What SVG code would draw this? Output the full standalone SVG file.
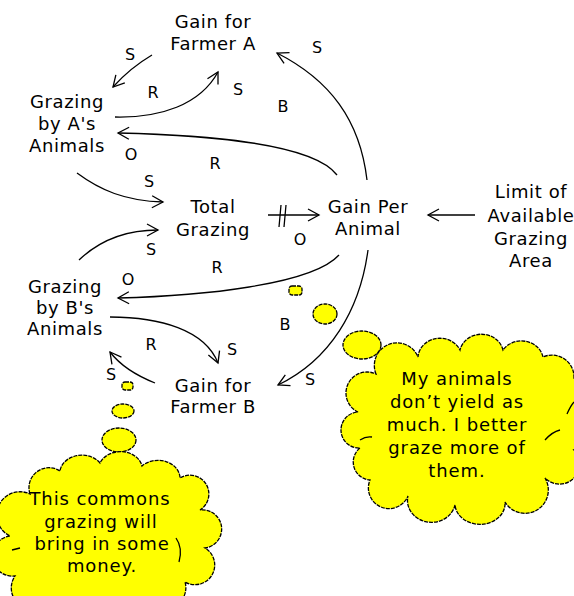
<svg xmlns="http://www.w3.org/2000/svg" width="574" height="596" viewBox="0 0 574 596">
<style>
  .t { font-family: "DejaVu Sans", "Liberation Sans", sans-serif; font-size: 18px; letter-spacing: 0.6px; fill: #000; text-anchor: middle; }
  .l { font-family: "DejaVu Sans", "Liberation Sans", sans-serif; font-size: 16px; fill: #000; text-anchor: middle; }
  .c { font-family: "DejaVu Sans", "Liberation Sans", sans-serif; font-size: 18px; letter-spacing: 0.9px; fill: #000; text-anchor: middle; }
  .e { fill: none; stroke: #000; stroke-width: 1.3; marker-end: url(#arr); }
  .h { fill: none; stroke: #000; stroke-width: 1.3; }
  .b { fill: #ffff00; stroke: #000; stroke-width: 1.3; stroke-dasharray: 4 1; }
</style>
<defs>
  <marker id="arr" markerUnits="userSpaceOnUse" viewBox="-12 -7 14 14" refX="0" refY="0" markerWidth="14" markerHeight="14" orient="auto">
    <path d="M-11,-6 L0,0 L-11,6" fill="none" stroke="#000" stroke-width="1.3"/>
  </marker>
</defs>
<rect width="574" height="596" fill="#fff"/>

<g id="connectors">
  <path class="e" d="M152,55 Q130,68 113,87"/>
  <path class="e" d="M115,117 C160,118 200,105 218,72"/>
  <path class="e" d="M367,180 C360,120 330,80 277,53"/>
  <path class="e" d="M337,175 C312,142 200,135 118,133"/>
  <path class="e" d="M77,173 C100,190 125,201 163,202"/>
  <path class="e" d="M79,260 C100,240 125,230 158,230"/>
  <path class="e" d="M268,215 L319,215"/>
  <path class="h" d="M281,205 L279,227 M286,205 L284,227"/>
  <path class="e" d="M475,215 L428,215"/>
  <path class="e" d="M339,255 C312,285 200,296 118,298"/>
  <path class="e" d="M368,250 C360,310 330,360 278,385"/>
  <path class="e" d="M110,317 C160,317 205,330 218,363"/>
  <path class="e" d="M155,383 C135,375 120,365 110,352"/>
</g>

<g id="labels">
  <text class="l" x="130" y="60">S</text>
  <text class="l" x="153" y="98">R</text>
  <text class="l" x="238" y="95">S</text>
  <text class="l" x="317" y="53">S</text>
  <text class="l" x="283" y="112">B</text>
  <text class="l" x="131" y="160">O</text>
  <text class="l" x="215" y="169">R</text>
  <text class="l" x="149" y="187">S</text>
  <text class="l" x="151" y="255">S</text>
  <text class="l" x="217" y="273">R</text>
  <text class="l" x="128" y="285">O</text>
  <text class="l" x="300" y="245">O</text>
  <text class="l" x="285" y="330">B</text>
  <text class="l" x="151" y="350">R</text>
  <text class="l" x="232" y="355">S</text>
  <text class="l" x="111" y="380">S</text>
  <text class="l" x="310" y="385">S</text>
</g>

<g id="gainA"><text class="t" x="213" y="28">Gain for</text><text class="t" x="213" y="50">Farmer A</text></g>
<g id="grazingA"><text class="t" x="67" y="108">Grazing</text><text class="t" x="67" y="130">by A's</text><text class="t" x="67" y="152">Animals</text></g>
<g id="total"><text class="t" x="213" y="213">Total</text><text class="t" x="213" y="236">Grazing</text></g>
<g id="gainPer"><text class="t" x="368" y="213">Gain Per</text><text class="t" x="368" y="235">Animal</text></g>
<g id="limit"><text class="t" x="531" y="198">Limit of</text><text class="t" x="531" y="222">Available</text><text class="t" x="531" y="245">Grazing</text><text class="t" x="531" y="267">Area</text></g>
<g id="grazingB"><text class="t" x="65" y="293">Grazing</text><text class="t" x="65" y="314">by B's</text><text class="t" x="65" y="335">Animals</text></g>
<g id="gainB"><text class="t" x="213" y="392">Gain for</text><text class="t" x="213" y="413">Farmer B</text></g>

<g id="thoughtRight">
  <rect class="b" x="289" y="286" width="13" height="9" rx="3"/>
  <ellipse class="b" cx="325" cy="314" rx="12" ry="10"/>
  <ellipse class="b" cx="362" cy="345" rx="19" ry="14"/>
  <path class="b" d="M376,374 A22,22 0 0 1 418,357 A22,20 0 0 1 460,350 A22,20 0 0 1 503,350 A22,20 0 0 1 543,357 A22,22 0 0 1 574,378 L580,378 L580,450 L574,450 A20,20 0 0 1 545,478 A22,22 0 0 1 505,502 A24,20 0 0 1 455,505 A22,20 0 0 1 408,496 A20,20 0 0 1 370,480 A18,18 0 0 1 360,448 A18,18 0 0 1 358,412 A18,18 0 0 1 376,374 Z"/>
  <path class="h" d="M360,440 Q366,436 372,437 M545,440 Q552,432 560,430 M567,414 Q571,405 574,402"/>
  <text class="c" x="457" y="385">My animals</text>
  <text class="c" x="457" y="408">don’t yield as</text>
  <text class="c" x="457" y="431">much. I better</text>
  <text class="c" x="457" y="454">graze more of</text>
  <text class="c" x="457" y="477">them.</text>
</g>

<g id="thoughtLeft">
  <rect class="b" x="122" y="382" width="11" height="8" rx="3"/>
  <ellipse class="b" cx="123" cy="411" rx="11" ry="7"/>
  <ellipse class="b" cx="119" cy="440" rx="17" ry="12"/>
  <path class="b" d="M30,494 A20,20 0 0 1 60,471 A22,18 0 0 1 100,463 A22,18 0 0 1 142,466 A22,18 0 0 1 180,478 A18,18 0 0 1 200,510 A18,18 0 0 1 205,548 A18,18 0 0 1 185,582 A20,20 0 0 1 150,600 L50,600 A18,18 0 0 1 15,576 A18,18 0 0 1 10,536 A18,18 0 0 1 30,494 Z"/>
  <path class="h" d="M12,550 L20,548 M176,538 Q183,548 179,562"/>
  <text class="c" x="100" y="505">This commons</text>
  <text class="c" x="101" y="528">grazing will</text>
  <text class="c" x="102" y="550">bring in some</text>
  <text class="c" x="102" y="572">money.</text>
</g>
</svg>
